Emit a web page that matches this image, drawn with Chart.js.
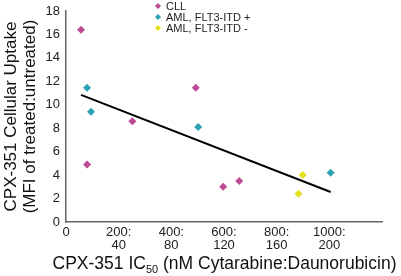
<!DOCTYPE html>
<html>
<head>
<meta charset="utf-8">
<script src="https://cdn.jsdelivr.net/npm/chart.js@4"></script>
<style>
  html, body { margin: 0; padding: 0; background: #fff; }
  #wrap { width: 401px; height: 276px; position: relative; }
</style>
</head>
<body>
<div id="wrap"><canvas id="uptake-chart"></canvas></div>
<script>
// values
const cllX = [57, 80, 252, 493, 597, 658];
const cllY = [16.4, 4.9, 8.6, 11.45, 3.0, 3.5];
const flt3PosX = [80, 95, 502, 1005];
const flt3PosY = [11.45, 9.4, 8.1, 4.2];
const flt3NegX = [899, 883];
const flt3NegY = [4.0, 2.4];
const trendX = [57, 1005];
const trendY = [10.85, 2.56];
const xTicks = ['0', ['200:', '40'], ['400:', '80'], ['600:', '120'], ['800:', '160'], ['1000:', '200'], ''];
const xTitleParts = ['CPX-351 IC', '50', ' (nM Cytarabine:Daunorubicin)'];

const FONT = '"Liberation Sans", Arial, sans-serif';
const toPoints = (xs, ys) => xs.map((x, i) => ({ x: x, y: ys[i] }));

// small legend drawn above the plot area
const cornerLegend = {
    id: 'cornerLegend',
    afterDraw(chart) {
        const ctx = chart.ctx;
        ctx.save();
        ctx.font = '11px ' + FONT;
        ctx.textBaseline = 'middle';
        let y = 6;
        chart.data.datasets.forEach((ds) => {
            if (!ds.showInLegend) return;
            const mx = 158;
            ctx.fillStyle = ds.backgroundColor;
            ctx.beginPath();
            ctx.moveTo(mx, y - 3);
            ctx.lineTo(mx + 3, y);
            ctx.lineTo(mx, y + 3);
            ctx.lineTo(mx - 3, y);
            ctx.closePath();
            ctx.fill();
            ctx.fillStyle = '#222';
            ctx.fillText(ds.label, 166, y + 0.5);
            y += 11;
        });
        ctx.restore();
    }
};

// x title with a real subscript, which the built in title can't do
const subscriptTitle = {
    id: 'subscriptTitle',
    afterDraw(chart) {
        const ctx = chart.ctx;
        const big = '17.5px ' + FONT;
        const small = '11px ' + FONT;
        ctx.save();
        ctx.fillStyle = '#111';
        ctx.textBaseline = 'alphabetic';
        ctx.font = big;
        const w1 = ctx.measureText(xTitleParts[0]).width;
        const w3 = ctx.measureText(xTitleParts[2]).width;
        ctx.font = small;
        const w2 = ctx.measureText(xTitleParts[1]).width;
        const total = w1 + w2 + w3;
        let x = (chart.width - total) / 2 + 24;
        const base = 269;
        ctx.font = big;
        ctx.fillText(xTitleParts[0], x, base);
        x += w1;
        ctx.font = small;
        ctx.fillText(xTitleParts[1], x, base + 4);
        x += w2;
        ctx.font = big;
        ctx.fillText(xTitleParts[2], x, base);
        ctx.restore();
    }
};

const ctx = document.getElementById('uptake-chart').getContext('2d');
new Chart(ctx, {
    type: 'scatter',
    data: {
        datasets: [
            {
                label: 'CLL',
                data: toPoints(cllX, cllY),
                backgroundColor: '#bd4a95',
                borderWidth: 0,
                pointStyle: 'rectRot',
                pointRadius: 4,
                showInLegend: true,
            },
            {
                label: 'AML, FLT3-ITD +',
                data: toPoints(flt3PosX, flt3PosY),
                backgroundColor: '#2aa2b4',
                borderWidth: 0,
                pointStyle: 'rectRot',
                pointRadius: 4,
                showInLegend: true,
            },
            {
                label: 'AML, FLT3-ITD -',
                data: toPoints(flt3NegX, flt3NegY),
                backgroundColor: '#e3e01c',
                borderWidth: 0,
                pointStyle: 'rectRot',
                pointRadius: 4,
                showInLegend: true,
            },
            {
                label: 'fit',
                type: 'line',
                data: toPoints(trendX, trendY),
                borderColor: '#000',
                borderWidth: 2,
                pointRadius: 0,
                fill: false,
            },
        ],
    },
    options: {
        responsive: true,
        maintainAspectRatio: false,
        animation: false,
        layout: { padding: { top: 11, right: 19, left: 0, bottom: 0 } },
        plugins: {
            legend: { display: false },
            tooltip: { enabled: false },
        },
        scales: {
            x: {
                type: 'linear',
                min: 0,
                max: 1200,
                afterBuildTicks: (scale) => {
                    scale.ticks = [0, 200, 400, 600, 800, 1000, 1200].map((v) => ({ value: v }));
                },
                afterFit: (scale) => { scale.height = 54; },
                grid: { display: false, drawTicks: true, tickLength: 4, color: '#666' },
                border: { color: '#666', width: 1.5 },
                ticks: {
                    color: '#222',
                    font: { size: 13, family: FONT, lineHeight: 1.0 },
                    maxRotation: 0,
                    padding: 0,
                    callback: (value, i) => xTicks[i],
                },
                title: { display: false },
            },
            y: {
                min: 0,
                max: 18,
                afterFit: (scale) => { scale.width = 66; },
                grid: { display: false, drawTicks: true, tickLength: 4, color: '#666' },
                border: { color: '#666', width: 1.5 },
                ticks: {
                    stepSize: 2,
                    color: '#222',
                    font: { size: 13, family: FONT },
                    padding: 2,
                },
                title: {
                    display: true,
                    text: ['CPX-351 Cellular Uptake', '(MFI of treated:untreated)'],
                    color: '#111',
                    font: { size: 17, family: FONT, lineHeight: 1.12 },
                    padding: { top: 2, bottom: 0 },
                },
            },
        },
    },
    plugins: [cornerLegend, subscriptTitle],
});
</script>
</body>
</html>
